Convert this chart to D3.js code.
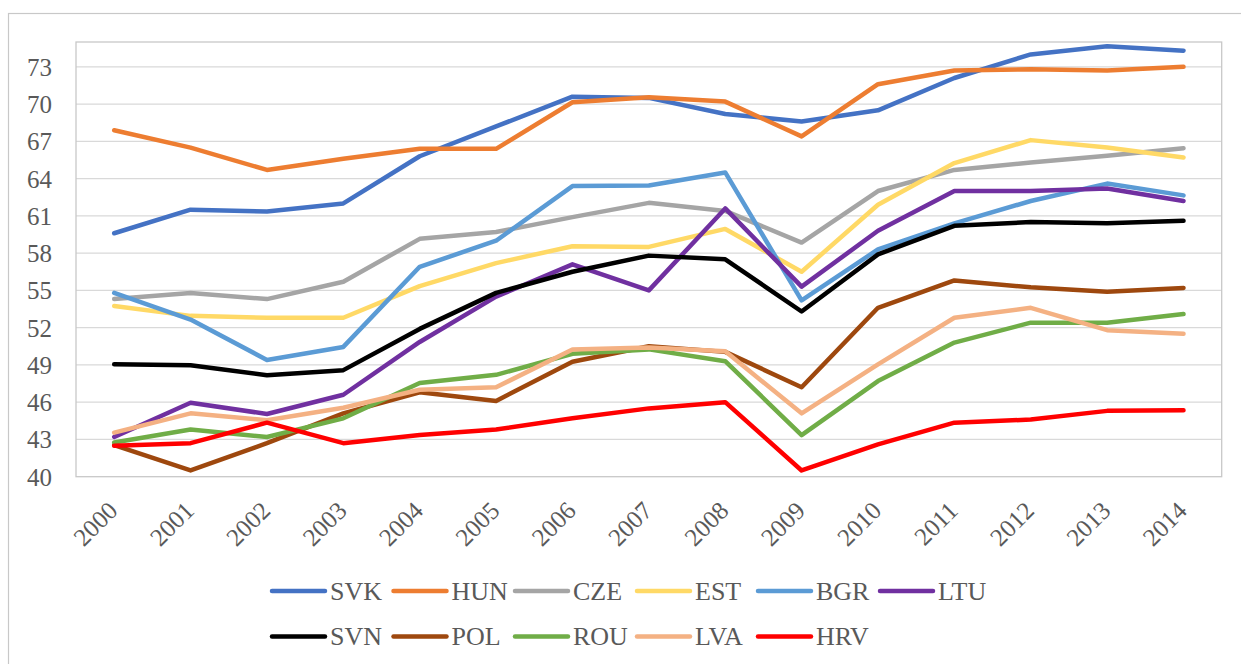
<!DOCTYPE html>
<html>
<head>
<meta charset="utf-8">
<script src="https://cdn.jsdelivr.net/npm/d3@7"></script>
<style>
  html, body { margin: 0; padding: 0; background: #fff; }
  svg { display: block; }
  text { font-family: "Liberation Serif", "Times New Roman", serif; fill: #595959; }
</style>
</head>
<body>
<svg id="chart" width="1241" height="664"></svg>
<script>
const years = ["2000","2001","2002","2003","2004","2005","2006","2007","2008","2009","2010","2011","2012","2013","2014"];
const yTicks = [40, 43, 46, 49, 52, 55, 58, 61, 64, 67, 70, 73];

const SVK = [59.6, 61.5, 61.35, 62.0, 65.8, 68.2, 70.6, 70.5, 69.2, 68.6, 69.5, 72.1, 74.0, 74.65, 74.3];
const HUN = [67.9, 66.5, 64.7, 65.6, 66.4, 66.4, 70.15, 70.55, 70.2, 67.4, 71.6, 72.7, 72.8, 72.7, 73.0];
const CZE = [54.3, 54.8, 54.3, 55.7, 59.15, 59.7, 60.9, 62.05, 61.4, 58.85, 63.0, 64.7, 65.3, 65.85, 66.45];
const EST = [53.75, 52.95, 52.8, 52.8, 55.35, 57.2, 58.55, 58.5, 59.95, 56.5, 61.9, 65.25, 67.1, 66.5, 65.7];
const BGR = [54.8, 52.65, 49.4, 50.45, 56.9, 59.0, 63.4, 63.45, 64.5, 54.2, 58.3, 60.4, 62.2, 63.6, 62.65];
const LTU = [43.2, 45.95, 45.05, 46.6, 50.85, 54.5, 57.1, 55.0, 61.6, 55.3, 59.8, 63.0, 63.0, 63.2, 62.2];
const SVN = [49.06, 48.98, 48.17, 48.58, 51.9, 54.8, 56.5, 57.8, 57.5, 53.3, 57.9, 60.2, 60.5, 60.4, 60.6];
const POL = [42.55, 40.5, 42.7, 45.1, 46.8, 46.1, 49.25, 50.5, 50.05, 47.2, 53.6, 55.8, 55.25, 54.9, 55.2];
const ROU = [42.75, 43.8, 43.2, 44.7, 47.55, 48.2, 49.9, 50.25, 49.3, 43.35, 47.7, 50.8, 52.4, 52.4, 53.1];
const LVA = [43.55, 45.1, 44.55, 45.55, 47.0, 47.2, 50.25, 50.4, 50.1, 45.1, 49.05, 52.8, 53.6, 51.8, 51.5];
const HRV = [42.5, 42.7, 44.35, 42.7, 43.35, 43.8, 44.7, 45.5, 46.0, 40.5, 42.6, 44.35, 44.6, 45.3, 45.35];

const seriesNames = ["SVK","HUN","CZE","EST","BGR","LTU","SVN","POL","ROU","LVA","HRV"];
const seriesValues = [SVK, HUN, CZE, EST, BGR, LTU, SVN, POL, ROU, LVA, HRV];
const seriesColors = ["#4472C4","#ED7D31","#A5A5A5","#FFD966","#5B9BD5","#7030A0","#000000","#9E480E","#70AD47","#F4B183","#FF0000"];

const series = seriesNames.map((n, i) => ({ name: n, values: seriesValues[i], color: seriesColors[i] }));

const svg = d3.select("#chart");

// outer chart frame
svg.append("rect")
  .attr("x", 8.5).attr("y", 13.5)
  .attr("width", 1260).attr("height", 700)
  .attr("fill", "none").attr("stroke", "#C8C8C8").attr("stroke-width", 1.2);

const plot = { left: 76, top: 42, right: 1221.7, bottom: 476.7 };

const x = d3.scalePoint().domain(years).range([plot.left, plot.right]).padding(0.5);
const y = d3.scaleLinear().domain([40, 75]).range([plot.bottom, plot.top]);

// gridlines
svg.append("g")
  .selectAll("line")
  .data(yTicks.filter(t => t > 40))
  .join("line")
  .attr("x1", plot.left).attr("x2", plot.right)
  .attr("y1", d => y(d)).attr("y2", d => y(d))
  .attr("stroke", "#D9D9D9").attr("stroke-width", 1.2);

// plot border
svg.append("rect")
  .attr("x", plot.left).attr("y", plot.top)
  .attr("width", plot.right - plot.left).attr("height", plot.bottom - plot.top)
  .attr("fill", "none").attr("stroke", "#C8C8C8").attr("stroke-width", 1.3);

// y axis
const yAxis = d3.axisLeft(y).tickValues(yTicks).tickSize(0).tickPadding(24);
const gy = svg.append("g").attr("transform", `translate(${plot.left},0)`).call(yAxis);
gy.select(".domain").remove();
gy.selectAll("text")
  .style("font-family", '"Liberation Serif", "Times New Roman", serif')
  .style("font-size", "25px").attr("fill", "#595959").attr("dy", "0.34em");

// x axis
const xAxis = d3.axisBottom(x).tickSize(0).tickPadding(0);
const gx = svg.append("g").attr("transform", `translate(0,${plot.bottom})`).call(xAxis);
gx.select(".domain").remove();
gx.selectAll("text")
  .style("font-family", '"Liberation Serif", "Times New Roman", serif')
  .style("font-size", "25px").attr("fill", "#595959")
  .attr("text-anchor", "end")
  .attr("dy", null).attr("y", null)
  .attr("transform", "translate(-8,23) rotate(-45)")
  .attr("dominant-baseline", "hanging");

// lines
const line = d3.line().x((d, i) => x(years[i])).y(d => y(d));
svg.append("g")
  .selectAll("path")
  .data(series)
  .join("path")
  .attr("d", d => line(d.values))
  .attr("fill", "none")
  .attr("stroke", d => d.color)
  .attr("stroke-width", 4.5)
  .attr("stroke-linejoin", "round")
  .attr("stroke-linecap", "round");

// legend
const colX = [272, 393.5, 515, 637, 758, 880];
const rowY = [591, 636.5];
const lg = svg.append("g")
  .selectAll("g")
  .data(series)
  .join("g")
  .attr("transform", (d, i) => `translate(${colX[i % 6]},${rowY[Math.floor(i / 6)]})`);
lg.append("line")
  .attr("x1", 0).attr("x2", 53).attr("y1", 0).attr("y2", 0)
  .attr("stroke", d => d.color).attr("stroke-width", 4.5).attr("stroke-linecap", "round");
lg.append("text")
  .attr("x", 58).attr("y", 0).attr("dy", "0.34em")
  .style("font-size", "26px")
  .text(d => d.name);
</script>
</body>
</html>
